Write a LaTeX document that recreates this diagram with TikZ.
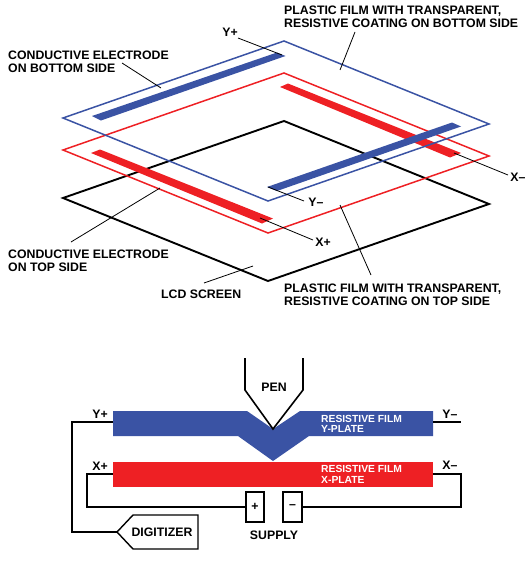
\documentclass[tikz,border=0pt]{standalone}
\usepackage{fontspec}
\setmainfont{Liberation Sans}
\usepackage{tikz}
\usetikzlibrary{positioning}
\usepackage{xcolor}
\definecolor{plateblue}{HTML}{3A53A4}
\definecolor{platered}{HTML}{EE2024}
\tikzset{
  lbl/.style={font=\bfseries\fontsize{12.3}{12.6}\selectfont,inner sep=0pt,align=left},
  lblw/.style={font=\bfseries\fontsize{10.3}{10.6}\selectfont,inner sep=0pt,align=left,text=white},
  leader/.style={draw=black,line width=0.8pt},
  wire/.style={draw=black,line width=1.4pt},
  sheet/.style={line width=1.5pt,line join=miter}
}
\begin{document}
\begin{tikzpicture}[x=1pt,y=-1pt]
\useasboundingbox (0,0) rectangle (532,562);
% stacked sheets
\draw[sheet,draw=black,line width=1.9pt] (284,121) -- (489,204) -- (268,281) -- (63,198) -- cycle;
\fill[platered] (288,83.5) -- (280,87) -- (450,157.5) -- (461,153) -- cycle;
\fill[platered] (100,149.5) -- (91,153) -- (262,223.5) -- (273,218.5) -- cycle;
\draw[sheet,draw=platered] (284,73) -- (489,156) -- (268,233) -- (63,150) -- cycle;
\fill[plateblue] (277,52.5) -- (285.5,56) -- (101,120.5) -- (92,116) -- cycle;
\fill[plateblue] (452,122.5) -- (461,126.5) -- (277,191) -- (267,187) -- cycle;
\draw[sheet,draw=plateblue] (284,41) -- (489,124) -- (268,201) -- (63,118) -- cycle;
% top labels
\node[lbl,anchor=west] (filmtop) at (284,17) {PLASTIC FILM WITH TRANSPARENT,\\RESISTIVE COATING ON BOTTOM SIDE};
\node[lbl,anchor=west] (electop) at (8,62) {CONDUCTIVE ELECTRODE\\ON BOTTOM SIDE};
\node[lbl,anchor=west] (elecbot) at (8,261) {CONDUCTIVE ELECTRODE\\ON TOP SIDE};
\node[lbl,anchor=west] (lcd) at (161,294) {LCD SCREEN};
\node[lbl,anchor=west] (filmbot) at (284,295) {PLASTIC FILM WITH TRANSPARENT,\\RESISTIVE COATING ON TOP SIDE};
\node[lbl] (yp) at (230,32) {Y+};
\node[lbl] (xm) at (518,177) {X--};
\node[lbl] (ym) at (316,202) {Y--};
\node[lbl] (xp) at (323,242) {X+};
% leaders
\coordinate (ypend) at (282,55);
\coordinate (xmend) at (454,153);
\coordinate (ymend) at (268,187);
\coordinate (xpend) at (260,218);
\coordinate (etend) at (161,88);
\coordinate (ebend) at (160,188);
\coordinate (ftend) at (340,70);
\coordinate (fbend) at (340,205);
\coordinate (lcdend) at (253,266);
\draw[leader] (238,38) -- (ypend);
\draw[leader] (508,175) -- (xmend);
\draw[leader] (304,201) -- (ymend);
\draw[leader] (313,240) -- (xpend);
\draw[leader] (122,63) -- (etend);
\draw[leader] (71,242) -- (ebend);
\draw[leader] (355,32) -- (ftend);
\draw[leader] (371,275) -- (fbend);
\draw[leader] (204,283) -- (lcdend);
% plates
\fill[plateblue] (113,411) -- (247,411) -- (273,429) -- (300,411) -- (433,411) -- (433,436) -- (309,436) -- (273,461) -- (238,436) -- (113,436) -- cycle;
\node[fill=platered,minimum width=320pt,minimum height=25pt,inner sep=0pt] (xplate) at (273,474.5) {};
\coordinate (yl) at (113,422);
\coordinate (yr) at (433,422);
\node[lblw,anchor=west] (ytxt) at (321,424) {RESISTIVE FILM\\Y-PLATE};
\node[lblw,anchor=west] (xtxt) at (321,474.5) {RESISTIVE FILM\\X-PLATE};
% pen
\draw[wire,line width=1.6pt] (245,358) -- (245,390) -- (273,429) -- (303,390) -- (303,358);
\node[lbl] (pen) at (274,387) {PEN};
% supply and digitizer
\node[draw,line width=1.4pt,minimum width=18pt,minimum height=30pt,inner sep=0pt,font=\bfseries\fontsize{12.3}{13}\selectfont] (splus) at (255,507) {+};
\node[draw,line width=1.4pt,minimum width=19pt,minimum height=30pt,inner sep=0pt,font=\bfseries\fontsize{12.3}{13}\selectfont] (sminus) at (292.5,507) {--};
\node[lbl] (supply) at (274,535) {SUPPLY};
\draw[wire] (117,532) -- (133,515) -- (198,515) -- (198,549) -- (133,549) -- cycle;
\coordinate (digtip) at (117,532);
\node[lbl] (digi) at (162,532) {DIGITIZER};
% wires
\draw[wire] (yl) -- (72,422) -- (72,532) -- (digtip);
\draw[wire] (yr) -- (461,422);
\draw[wire] (xplate.west |- 0,474) -- (87,474) -- (87,507) -- (splus.west);
\draw[wire] (xplate.east |- 0,474) -- (461,474) -- (461,507) -- (sminus.east);
\node[lbl] (yplus) at (100,414) {Y+};
\node[lbl] (yminus) at (450,414) {Y--};
\node[lbl] (xplus) at (100,466) {X+};
\node[lbl] (xminus) at (450,465) {X--};
\end{tikzpicture}
\end{document}
